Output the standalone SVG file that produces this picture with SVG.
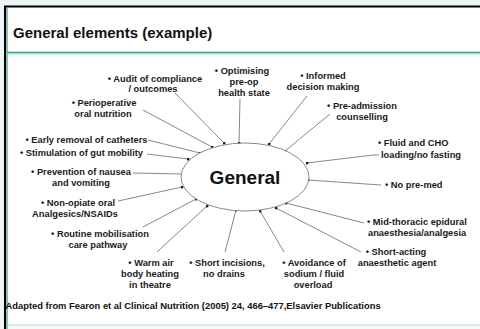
<svg xmlns="http://www.w3.org/2000/svg" width="480" height="329" viewBox="0 0 480 329">
<defs>
<marker id="dot" viewBox="0 0 4 4" refX="2" refY="2" markerWidth="3" markerHeight="3" markerUnits="userSpaceOnUse">
<circle cx="2" cy="2" r="2" fill="#1a1a1a"/>
</marker>
<style>
.t{font-family:"Liberation Sans",Arial,sans-serif;font-weight:bold;fill:#1a1a1a;font-size:9.3px}
.m{text-anchor:middle}
.c{stroke:#7a7a7a;stroke-width:0.9;fill:none;marker-end:url(#dot)}
</style>
</defs>
<rect x="0" y="0" width="480" height="329" fill="#ffffff"/>
<rect x="0" y="0" width="480" height="6" fill="#eef5f9"/>
<rect x="0" y="0" width="4" height="329" fill="#eef5f9"/>
<rect x="8" y="326" width="472" height="3" fill="#f3faf7"/>
<line x1="4" y1="6.5" x2="480" y2="6.5" stroke="#000" stroke-width="2"/>
<line x1="5" y1="6" x2="5" y2="329" stroke="#000" stroke-width="2"/>
<line x1="7" y1="7" x2="7" y2="329" stroke="#3c9a73" stroke-width="1.2"/>
<line x1="7" y1="52.5" x2="480" y2="52.5" stroke="#3c9a73" stroke-width="1.5"/>
<line x1="7" y1="54" x2="480" y2="54" stroke="#a9d9c5" stroke-width="1"/>
<line x1="7" y1="325" x2="480" y2="325" stroke="#b3dccb" stroke-width="1.2"/>
<text x="13" y="38" font-family="Liberation Sans,Arial,sans-serif" font-weight="bold" font-size="15" fill="#111">General elements (example)</text>

<g id="connectors">
<line class="c" x1="175" y1="93" x2="224" y2="143"/>
<line class="c" x1="240" y1="99" x2="239" y2="143"/>
<line class="c" x1="307" y1="96" x2="269" y2="144"/>
<line class="c" x1="330" y1="114" x2="285" y2="151"/>
<polyline class="c" points="379,155 373,155 307,163"/>
<line class="c" x1="381" y1="185" x2="308" y2="180"/>
<line class="c" x1="364" y1="223" x2="286" y2="203"/>
<line class="c" x1="361" y1="252" x2="276" y2="208"/>
<line class="c" x1="284" y1="252" x2="260" y2="211"/>
<line class="c" x1="225" y1="252" x2="236" y2="210"/>
<line class="c" x1="157" y1="252" x2="207" y2="206"/>
<line class="c" x1="143" y1="227" x2="196" y2="199"/>
<line class="c" x1="118" y1="201" x2="182" y2="187"/>
<line class="c" x1="133" y1="173" x2="182" y2="174"/>
<line class="c" x1="147" y1="154" x2="188" y2="159"/>
<line class="c" x1="148" y1="140" x2="200" y2="153"/>
<line class="c" x1="143" y1="110" x2="212" y2="147"/>
</g>

<g id="general">
<ellipse cx="245" cy="177" rx="64" ry="34" fill="#fff" stroke="#8a8a8a" stroke-width="1"/>
<text x="245" y="183.5" class="m" font-family="Liberation Sans,Arial,sans-serif" font-weight="bold" font-size="19" fill="#111">General</text>
</g>

<g id="audit"><text class="t m" x="155" y="82">• Audit of compliance</text><text class="t m" x="153" y="92">/ outcomes</text></g>
<g id="optimising"><text class="t m" x="242" y="74">• Optimising</text><text class="t m" x="244" y="85">pre-op</text><text class="t m" x="244" y="96">health state</text></g>
<g id="informed"><text class="t m" x="323" y="79">• Informed</text><text class="t m" x="323" y="90">decision making</text></g>
<g id="preadmission"><text class="t m" x="362" y="109">• Pre-admission</text><text class="t m" x="362" y="120">counselling</text></g>
<g id="fluid"><text class="t" x="378" y="146">• Fluid and CHO</text><text class="t" x="381" y="158">loading/no fasting</text></g>
<g id="nopremed"><text class="t" x="385" y="188">• No pre-med</text></g>
<g id="midthoracic"><text class="t" x="367" y="225">• Mid-thoracic epidural</text><text class="t" x="368" y="236">anaesthesia/analgesia</text></g>
<g id="shortacting"><text class="t m" x="396" y="255">• Short-acting</text><text class="t m" x="397" y="266">anaesthetic agent</text></g>
<g id="avoidance"><text class="t m" x="314" y="266">• Avoidance of</text><text class="t m" x="314" y="277">sodium / fluid</text><text class="t m" x="313" y="288">overload</text></g>
<g id="shortincisions"><text class="t m" x="227" y="266">• Short incisions,</text><text class="t m" x="224" y="277">no drains</text></g>
<g id="warmair"><text class="t m" x="151" y="266">• Warm air</text><text class="t m" x="150" y="277">body heating</text><text class="t m" x="150" y="288">in theatre</text></g>
<g id="routine"><text class="t m" x="100" y="237">• Routine mobilisation</text><text class="t m" x="98" y="248">care pathway</text></g>
<g id="nonopiate"><text class="t m" x="78" y="206">• Non-opiate oral</text><text class="t m" x="75" y="217">Analgesics/NSAIDs</text></g>
<g id="prevention"><text class="t m" x="81" y="175">• Prevention of nausea</text><text class="t m" x="81" y="186">and vomiting</text></g>
<g id="stimulation"><text class="t m" x="81.5" y="156">• Stimulation of gut mobility</text></g>
<g id="earlyremoval"><text class="t m" x="86.5" y="143">• Early removal of catheters</text></g>
<g id="perioperative"><text class="t m" x="104" y="106">• Perioperative</text><text class="t m" x="103" y="117">oral nutrition</text></g>

<text x="5.5" y="308.5" font-family="Liberation Sans,Arial,sans-serif" font-weight="bold" font-size="9.4" fill="#111">Adapted from Fearon et al Clinical Nutrition (2005) 24, 466–477,Elsavier Publications</text>
</svg>
